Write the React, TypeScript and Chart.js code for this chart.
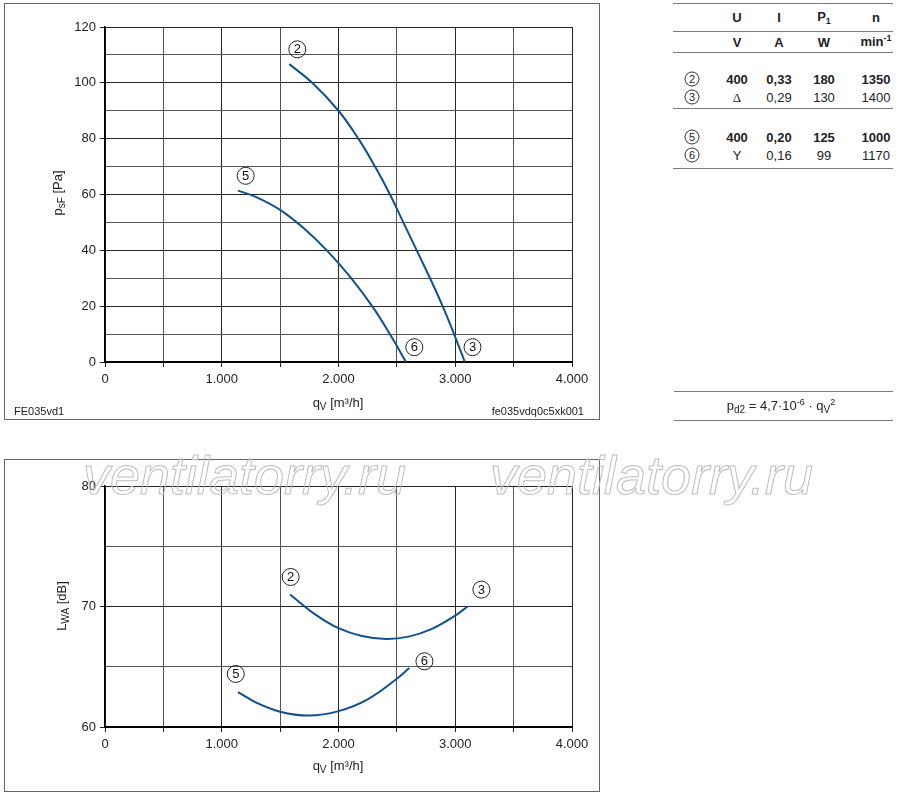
import React, { useEffect, useRef } from 'react';
import { Chart, registerables } from 'chart.js';

Chart.register(...registerables);

// ---------- data ----------
const flowTickStep = 500;
const flowMax = 4000;

const pressureFlow2 = [1579, 1775, 2000, 2170, 2313, 2441, 2555, 2670, 2784, 2892, 2990, 3082];
const pressure2 = [106.7, 100, 90, 80, 70, 60, 50, 40, 30, 20, 10, 0];
const pressureFlow5 = [1139, 1300, 1500, 1700, 1900, 2100, 2300, 2450, 2578];
const pressure5 = [61.4, 59.0, 54.5, 48.0, 40, 30.5, 19.3, 9.3, 0];

const noiseFlow23 = [1585, 1800, 2000, 2200, 2407, 2600, 2800, 3000, 3106];
const noise23 = [71, 69.35, 68.2, 67.55, 67.3, 67.5, 68.15, 69.25, 70];
const noiseFlow56 = [1139, 1300, 1500, 1744, 2000, 2250, 2500, 2606];
const noise56 = [62.9, 62.0, 61.27, 60.95, 61.32, 62.3, 64.0, 64.9];

const pressureMarkers = [
  { label: '2', q: 1647, v: 112 },
  { label: '5', q: 1205, v: 66.7 },
  { label: '6', q: 2649, v: 5.3 },
  { label: '3', q: 3148, v: 5.3 },
];
const noiseMarkers = [
  { label: '2', q: 1590, v: 72.45 },
  { label: '3', q: 3224, v: 71.4 },
  { label: '5', q: 1120, v: 64.4 },
  { label: '6', q: 2736, v: 65.45 },
];

const tableColumns = [737, 779, 824, 876];
const headerSymbols = ['U', 'I', 'P', 'n'];
const headerSubs = ['', '', '1', ''];
const unitSymbols = ['V', 'A', 'W', 'min'];
const unitSups = ['', '', '', '-1'];
const ratingCurves = ['2', '3', '5', '6'];
const ratingValues = [
  ['400', '0,33', '180', '1350'],
  ['Δ', '0,29', '130', '1400'],
  ['400', '0,20', '125', '1000'],
  ['Y', '0,16', '99', '1170'],
];
const ratingBold = [true, false, true, false];
const ratingRowY = [79, 97, 137, 155];

// ---------- styles ----------
const FONT = "'Liberation Sans', Arial, Helvetica, sans-serif";
const CURVE = '#12508e';
const MAJOR = '#262626';
const MINOR = '#555555';

const markerPlugin = {
  id: 'circledMarkers',
  afterDatasetsDraw(chart: any, _args: any, opts: any) {
    const { ctx } = chart;
    const x = chart.scales.x;
    const y = chart.scales.y;
    for (const m of opts.items || []) {
      const px = x.getPixelForValue(m.q);
      const py = y.getPixelForValue(m.v);
      ctx.save();
      ctx.beginPath();
      ctx.arc(px, py, 8.5, 0, Math.PI * 2);
      ctx.lineWidth = 1;
      ctx.strokeStyle = '#222';
      ctx.stroke();
      ctx.font = `13px ${FONT}`;
      ctx.fillStyle = '#111';
      ctx.textAlign = 'center';
      ctx.textBaseline = 'middle';
      ctx.fillText(m.label, px, py + 0.5);
      ctx.restore();
    }
  },
};

const fmtFlow = (v: number) => (v === 0 ? '0' : `${Math.round(v / 1000)}.000`);

type Series = { q: number[]; v: number[] };

function FanChart(props: {
  top: number;
  height: number;
  padTop: number;
  xAxisHeight: number;
  yMin: number;
  yMax: number;
  yStep: number;
  yLabelStep: number;
  series: Series[];
  markers: { label: string; q: number; v: number }[];
}) {
  const ref = useRef<HTMLCanvasElement>(null);
  useEffect(() => {
    if (!ref.current) return;
    const { yMin, yMax, yStep, yLabelStep } = props;
    const chart = new Chart(ref.current, {
      type: 'scatter',
      data: {
        datasets: props.series.map((s) => ({
          data: s.q.map((q, i) => ({ x: q, y: s.v[i] })),
          showLine: true,
          borderColor: CURVE,
          backgroundColor: CURVE,
          borderWidth: 2,
          pointRadius: 0,
          tension: 0.4,
          fill: false,
        })),
      },
      options: {
        responsive: false,
        animation: false,
        events: [],
        layout: { padding: { left: 0, right: 32, top: props.padTop, bottom: 0 } },
        plugins: {
          legend: { display: false },
          tooltip: { enabled: false },
          circledMarkers: { items: props.markers },
        } as any,
        scales: {
          x: {
            type: 'linear',
            min: 0,
            max: flowMax,
            ticks: {
              stepSize: flowTickStep,
              autoSkip: false,
              maxRotation: 0,
              padding: 5,
              color: '#222',
              font: { family: FONT, size: 13 },
              callback: (v: any) => (Number(v) % 1000 === 0 ? fmtFlow(Number(v)) : ''),
            },
            grid: {
              color: (c: any) => (c.tick && c.tick.value % 1000 === 0 ? MAJOR : MINOR),
              lineWidth: 1,
              tickLength: 5,
              tickColor: '#222',
            },
            border: { display: true, color: '#000', width: 2 },
            afterFit: (s: any) => {
              s.height = props.xAxisHeight;
            },
          },
          y: {
            type: 'linear',
            min: yMin,
            max: yMax,
            ticks: {
              stepSize: yStep,
              autoSkip: false,
              padding: 4,
              color: '#222',
              font: { family: FONT, size: 13 },
              callback: (v: any) => (Number(v) % yLabelStep === 0 ? String(v) : ''),
            },
            grid: {
              color: (c: any) => (c.tick && c.tick.value % yLabelStep === 0 ? MAJOR : MINOR),
              lineWidth: 1,
              tickLength: 5,
              tickColor: (c: any) =>
                c.tick && c.tick.value % yLabelStep === 0 ? '#222' : 'rgba(0,0,0,0)',
            },
            border: { display: true, color: '#000', width: 1.5 },
            afterFit: (s: any) => {
              s.width = 105;
            },
          },
        },
      } as any,
      plugins: [markerPlugin as any],
    });
    return () => chart.destroy();
  }, []);
  return (
    <canvas
      ref={ref}
      width={604}
      height={props.height}
      style={{ position: 'absolute', left: 0, top: props.top, width: 604, height: props.height }}
    />
  );
}

const abs = (x: number, y: number, extra: React.CSSProperties = {}): React.CSSProperties => ({
  position: 'absolute',
  left: x,
  top: y,
  transform: 'translate(-50%, -50%)',
  whiteSpace: 'nowrap',
  fontFamily: FONT,
  fontSize: 13,
  color: '#222',
  lineHeight: '15px',
  ...extra,
});

const subStyle: React.CSSProperties = { fontSize: 10, position: 'relative', top: 3 };
const supStyle: React.CSSProperties = { fontSize: 9, position: 'relative', top: -5 };

function Circled({ n, x, y }: { n: string; x: number; y: number }) {
  return (
    <div
      style={{
        ...abs(x, y),
        width: 13,
        height: 13,
        border: '1px solid #333',
        borderRadius: '50%',
        fontSize: 11,
        lineHeight: '13px',
        textAlign: 'center',
      }}
    >
      {n}
    </div>
  );
}

function HLine({ x, y, w, color = '#7a7a7a' }: { x: number; y: number; w: number; color?: string }) {
  return <div style={{ position: 'absolute', left: x, top: y, width: w, height: 1, background: color }} />;
}

export default function App() {
  return (
    <div style={{ position: 'absolute', left: 0, top: 0, width: 900, height: 797, background: '#fff', overflow: 'hidden' }}>
      {/* frames */}
      <div style={{ position: 'absolute', left: 4, top: 3, width: 596, height: 417, border: '1px solid #666', boxSizing: 'border-box' }} />
      <div style={{ position: 'absolute', left: 4, top: 459, width: 596, height: 333, border: '1px solid #666', boxSizing: 'border-box' }} />

      <FanChart
        top={0}
        height={424}
        padTop={27}
        xAxisHeight={62}
        yMin={0}
        yMax={120}
        yStep={10}
        yLabelStep={20}
        series={[
          { q: pressureFlow2, v: pressure2 },
          { q: pressureFlow5, v: pressure5 },
        ]}
        markers={pressureMarkers}
      />
      <FanChart
        top={440}
        height={357}
        padTop={46}
        xAxisHeight={70}
        yMin={60}
        yMax={80}
        yStep={5}
        yLabelStep={10}
        series={[
          { q: noiseFlow23, v: noise23 },
          { q: noiseFlow56, v: noise56 },
        ]}
        markers={noiseMarkers}
      />

      {/* axis titles */}
      <div style={abs(338, 403)}>
        q<span style={subStyle}>V</span> [m³/h]
      </div>
      <div style={abs(338, 766)}>
        q<span style={subStyle}>V</span> [m³/h]
      </div>
      <div style={abs(58, 193, { transform: 'translate(-50%, -50%) rotate(-90deg)' })}>
        p<span style={subStyle}>sF</span> [Pa]
      </div>
      <div style={abs(62, 606, { transform: 'translate(-50%, -50%) rotate(-90deg)' })}>
        L<span style={subStyle}>WA</span> [dB]
      </div>

      {/* footers */}
      <div style={{ ...abs(14, 411, { fontSize: 11, transform: 'translate(0, -50%)' }) }}>FE035vd1</div>
      <div style={{ ...abs(584, 411, { fontSize: 11, transform: 'translate(-100%, -50%)' }) }}>fe035vdq0c5xk001</div>

      {/* table */}
      <HLine x={673} y={3} w={220} />
      <HLine x={673} y={31} w={220} />
      <HLine x={673} y={52} w={220} />
      <HLine x={673} y={108} w={220} />
      <HLine x={673} y={168} w={220} />
      {headerSymbols.map((s, i) => (
        <div key={'h' + i} style={abs(tableColumns[i], 17, { fontWeight: 'bold' })}>
          {s}
          {headerSubs[i] && <span style={{ ...subStyle, fontSize: 9 }}>{headerSubs[i]}</span>}
        </div>
      ))}
      {unitSymbols.map((s, i) => (
        <div key={'u' + i} style={abs(tableColumns[i], 42, { fontWeight: 'bold' })}>
          {s}
          {unitSups[i] && <span style={supStyle}>{unitSups[i]}</span>}
        </div>
      ))}
      {ratingValues.map((row, r) => (
        <React.Fragment key={'r' + r}>
          <Circled n={ratingCurves[r]} x={692} y={ratingRowY[r]} />
          {row.map((v, i) => (
            <div
              key={'c' + i}
              style={abs(tableColumns[i], ratingRowY[r], {
                fontWeight: ratingBold[r] ? 'bold' : 'normal',
                fontFamily: v === 'Δ' ? "'Liberation Serif', 'DejaVu Serif', serif" : FONT,
              })}
            >
              {v}
            </div>
          ))}
        </React.Fragment>
      ))}

      {/* formula */}
      <HLine x={674} y={391} w={219} />
      <HLine x={674} y={420} w={219} />
      <div style={abs(781, 406)}>
        p<span style={subStyle}>d2</span> = 4,7·10<span style={supStyle}>-6</span> · q<span style={subStyle}>V</span>
        <span style={supStyle}>2</span>
      </div>

      {/* watermark */}
      <svg width={900} height={797} style={{ position: 'absolute', left: 0, top: 0, pointerEvents: 'none' }}>
        {[83, 490].map((x) => (
          <text
            key={x}
            x={x}
            y={494}
            fontFamily={FONT}
            fontStyle="italic"
            fontSize={54}
            fill="none"
            stroke="#bdbdbd"
            strokeWidth={1}
          >
            ventilatorry.ru
          </text>
        ))}
      </svg>
    </div>
  );
}
